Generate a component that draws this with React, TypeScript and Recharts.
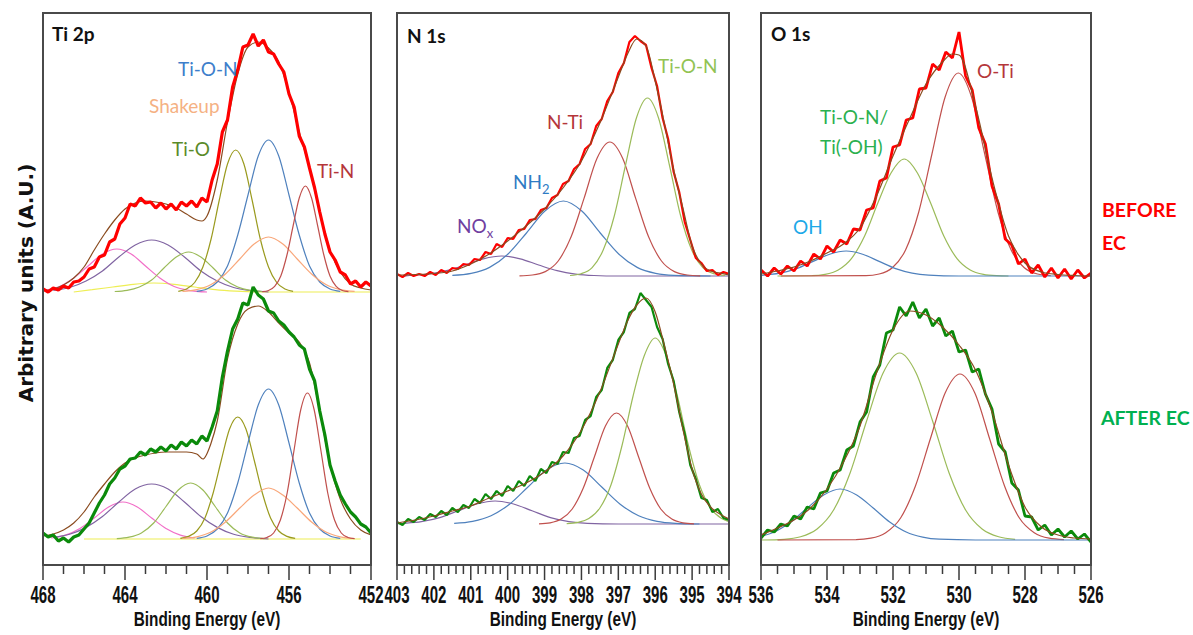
import React from 'react';
import { LineChart, Line, XAxis, YAxis } from 'recharts';

type Pt = [number, number];
type Row = { x: number; y: number };

// ---------- Ti 2p (eV, intensity a.u.) ----------
const TI_DATA_START = 468;
const TI_DATA_STEP = 0.25;
const TI_BEFORE_DATA = [3, 0, 4, 2, 6, 4, 10, 11, 15, 23, 25, 35, 37, 50, 53, 68, 74, 88, 86, 94, 89, 90, 84, 89, 83, 88, 82, 90, 86, 91, 85, 94, 90, 112, 128, 160, 172, 205, 222, 245, 247, 258, 246, 252, 240, 238, 228, 220, 198, 185, 156, 145, 124, 104, 80, 58, 40, 32, 20, 17, 8, 11, 5, 10, 6];
const TI_AFTER_DATA = [6, 2, 4, -2, 1, -3, 2, 4, 10, 16, 26, 36, 44, 55, 61, 70, 73, 80, 81, 87, 84, 90, 87, 92, 88, 94, 90, 97, 93, 99, 95, 103, 98, 112, 128, 162, 188, 210, 220, 236, 234, 252, 244, 240, 228, 226, 218, 214, 207, 202, 194, 190, 170, 158, 128, 104, 74, 58, 44, 35, 27, 22, 15, 12, 6];

const TI_B_ENV: Pt[] = [[468, 1], [467.5, 3], [467, 7], [466.5, 14], [466, 25], [465.5, 42], [465, 58], [464.5, 72], [464, 83], [463.5, 89], [463, 91], [462.5, 90], [462, 88], [461.5, 84], [461, 78], [460.5, 72], [460.25, 71], [460, 76], [459.5, 112], [459, 170], [458.5, 218], [458, 245], [457.5, 250], [457, 244], [456.5, 230], [456, 200], [455.5, 160], [455, 124], [454.5, 80], [454, 42], [453.5, 20], [453, 8], [452.5, 4], [452, 2]];
const TI_B_PINK: Pt[] = [[467.9, 1.7], [467.2, 5.5], [466.5, 14], [465.8, 26], [465.1, 38], [464.4, 43], [463.7, 38], [463.0, 26], [462.3, 14], [461.6, 5.5], [460.9, 1.7], [460.0, 0]];
const TI_B_PURPLE: Pt[] = [[467.5, 1.5], [466.7, 4.5], [465.9, 11], [465.1, 21], [464.3, 35], [463.5, 47], [462.7, 52], [461.9, 47], [461.1, 35], [460.3, 21], [459.5, 11], [458.7, 4.5], [457.9, 1.5], [457.0, 0]];
const TI_B_YELLOW: Pt[] = [[466.5, 0], [465.6, 2.3], [464.6, 5], [463.6, 7.7], [462.6, 9], [461.6, 7.7], [460.6, 5], [459.6, 2.3], [458.6, 0.8], [457.5, 0], [452, 0]];
const TI_B_LGREEN: Pt[] = [[464.5, 0.5], [463.9, 1.6], [463.3, 5], [462.7, 12], [462.1, 24], [461.5, 35], [460.9, 40], [460.3, 35], [459.7, 24], [459.1, 12], [458.5, 5], [457.9, 1.6], [457.3, 0.5]];
const TI_B_OLIVE: Pt[] = [[461.4, 0.7], [461.0, 3], [460.6, 9.5], [460.2, 25], [459.8, 53], [459.4, 92], [459.0, 128], [458.6, 142], [458.2, 128], [457.8, 92], [457.4, 53], [457.0, 25], [456.6, 9.5], [456.2, 3], [455.8, 0.7]];
const TI_B_BLUE: Pt[] = [[460.5, 0.7], [460.0, 3], [459.5, 10], [459.0, 26], [458.5, 57], [458.0, 97], [457.5, 136], [457.0, 152], [456.5, 136], [456.0, 97], [455.5, 57], [455.0, 26], [454.5, 10], [454.0, 3], [453.5, 0.7]];
const TI_B_ORANGE: Pt[] = [[461.2, 0.6], [460.5, 2.4], [459.8, 7.5], [459.1, 18], [458.4, 33], [457.7, 48], [457.0, 55], [456.3, 48], [455.6, 33], [454.9, 18], [454.2, 7.5], [453.5, 2.4], [452.8, 0.6]];
const TI_B_TIN: Pt[] = [[457.3, 0.3], [457.0, 1.5], [456.7, 5.6], [456.4, 16], [456.1, 37], [455.8, 66], [455.5, 94], [455.2, 106], [454.9, 94], [454.6, 66], [454.3, 37], [454.0, 16], [453.7, 5.6], [453.4, 1.5], [453.1, 0.3]];

const TI_A_ENV: Pt[] = [[468, 3], [467.5, 5], [467, 9], [466.5, 16], [466, 27], [465.5, 42], [465, 55], [464.5, 67], [464, 76], [463.5, 81], [463, 84], [462.5, 86], [462, 87], [461.5, 87], [461, 87], [460.5, 85], [460.2, 80], [459.8, 96], [459.5, 118], [459, 180], [458.5, 215], [458, 230], [457.5, 233], [457, 227], [456.5, 216], [456, 206], [455.5, 197], [455, 176], [454.5, 128], [454, 75], [453.5, 40], [453, 20], [452.5, 9], [452, 4]];
const TI_A_PINK: Pt[] = [[467.6, 1], [466.9, 3.9], [466.2, 10.5], [465.5, 21], [464.8, 32], [464.1, 37], [463.4, 32], [462.7, 21], [462.0, 10.5], [461.3, 3.9], [460.6, 1]];
const TI_A_PURPLE: Pt[] = [[467.5, 1.6], [466.7, 4.7], [465.9, 11.6], [465.1, 22.5], [464.3, 37], [463.5, 50], [462.7, 55], [461.9, 50], [461.1, 37], [460.3, 22.5], [459.5, 11.6], [458.7, 4.7], [457.9, 1.6], [457.0, 0]];
const TI_A_YELLOW: Pt[] = [[466.0, 0], [452.5, 0]];
const TI_A_LGREEN: Pt[] = [[464.4, 0.4], [463.8, 1.8], [463.2, 6.1], [462.6, 16], [462.0, 32.5], [461.4, 49], [460.8, 56], [460.2, 49], [459.6, 32.5], [459.0, 16], [458.4, 6.1], [457.8, 1.8], [457.2, 0.4]];
const TI_A_OLIVE: Pt[] = [[461.3, 0.6], [460.9, 2.6], [460.5, 8], [460.1, 21], [459.7, 46], [459.3, 79], [458.9, 110], [458.5, 122], [458.1, 110], [457.7, 79], [457.3, 46], [456.9, 21], [456.5, 8], [456.1, 2.6], [455.7, 0.6]];
const TI_A_BLUE: Pt[] = [[460.5, 0.7], [460.0, 3], [459.5, 10], [459.0, 26], [458.5, 56], [458.0, 96], [457.5, 134], [457.0, 150], [456.5, 134], [456.0, 96], [455.5, 56], [455.0, 26], [454.5, 10], [454.0, 3], [453.5, 0.7]];
const TI_A_ORANGE: Pt[] = [[461.2, 0.5], [460.5, 2.2], [459.8, 7], [459.1, 17], [458.4, 31], [457.7, 44], [457.0, 51], [456.3, 44], [455.6, 31], [454.9, 17], [454.2, 7], [453.5, 2.2], [452.8, 0.5]];
const TI_A_TIN: Pt[] = [[457.4, 0.3], [457.08, 1.5], [456.75, 6], [456.42, 19], [456.09, 46], [455.76, 88], [455.43, 129], [455.1, 146], [454.77, 129], [454.44, 88], [454.11, 46], [453.78, 19], [453.45, 6], [453.12, 1.5], [452.8, 0.3]];

// ---------- N 1s ----------
const N_DATA_START = 403;
const N_DATA_STEP = 0.15;
const N_BEFORE_DATA = [2, -1, 3, 0, 2, 0, 4, 1, 6, 3, 8, 7, 12, 11, 17, 16, 24, 22, 32, 29, 38, 37, 46, 47, 56, 57, 66, 68, 78, 81, 92, 95, 107, 112, 127, 132, 150, 157, 175, 184, 203, 213, 234, 240, 235, 231, 208, 190, 158, 137, 104, 84, 54, 36, 18, 13, 5, 6, 1, 4, 2];
const N_AFTER_DATA = [2, -1, 5, 2, 7, 4, 10, 7, 13, 9, 16, 12, 19, 16, 25, 21, 30, 25, 33, 28, 38, 33, 43, 38, 48, 43, 55, 51, 62, 60, 72, 71, 86, 88, 104, 108, 127, 134, 156, 164, 184, 192, 211, 215, 231, 224, 217, 197, 185, 160, 143, 112, 90, 59, 45, 26, 24, 12, 15, 6, 4];

const N_B_ENV: Pt[] = [[403, 1], [402.5, 1.5], [402, 2.5], [401.5, 5], [401, 12], [400.5, 22], [400, 35], [399.5, 50], [399, 67], [398.5, 88], [398, 115], [397.5, 153], [397, 199], [396.75, 222], [396.5, 237], [396.25, 230], [396, 195], [395.75, 152], [395.5, 106], [395.25, 68], [395, 30], [394.75, 12], [394.5, 5], [394.25, 3], [394, 1]];
const N_B_NOX: Pt[] = [[402.8, 0], [402.66, 0.5], [402.16, 1.9], [401.66, 5.3], [401.16, 11], [400.66, 17.2], [400.16, 20], [399.66, 17.2], [399.16, 11], [398.66, 5.3], [398.16, 1.9], [397.66, 0.5], [397, 0], [394, 0]];
const N_B_NH2: Pt[] = [[401.5, 0.6], [400.99, 2.6], [400.49, 8.6], [399.99, 22], [399.49, 43], [398.99, 65], [398.49, 75], [397.99, 65], [397.49, 43], [396.99, 22], [396.49, 8.6], [395.99, 2.6], [395.49, 0.6], [394.5, 0]];
const N_B_NTI: Pt[] = [[399.68, 0.2], [399.33, 1], [398.98, 4.4], [398.63, 15], [398.28, 39.2], [397.93, 77.6], [397.58, 117.5], [397.23, 134], [396.88, 117.5], [396.53, 77.6], [396.18, 39.2], [395.83, 15], [395.48, 4.4], [395.13, 1], [394.78, 0.2]];
const N_B_TION: Pt[] = [[398.31, 0.5], [398.01, 2.3], [397.71, 8.4], [397.41, 26], [397.11, 60], [396.81, 110], [396.51, 158], [396.21, 178], [395.91, 158], [395.61, 110], [395.31, 60], [395.01, 26], [394.71, 8.4], [394.41, 2.3], [394.11, 0.5]];

const N_A_ENV: Pt[] = [[403, 1], [402.5, 4], [402, 8], [401.5, 13], [401, 18], [400.5, 26], [400, 33], [399.5, 41], [399, 52], [398.5, 68], [398, 94], [397.5, 132], [397, 180], [396.75, 203], [396.5, 219], [396.25, 226], [396, 212], [395.75, 178], [395.5, 140], [395.25, 95], [395, 55], [394.75, 30], [394.5, 17], [394.25, 10], [394, 5]];
const N_A_NOX: Pt[] = [[403, 0.3], [402.84, 0.7], [402.34, 2.4], [401.84, 6.4], [401.34, 13.2], [400.84, 20], [400.34, 23], [399.84, 20], [399.34, 13.2], [398.84, 6.4], [398.34, 2.4], [397.84, 0.7], [397, 0], [394, 0]];
const N_A_NH2: Pt[] = [[401.45, 0.7], [400.95, 2.7], [400.45, 8.3], [399.95, 19.8], [399.45, 37], [398.95, 54], [398.45, 61], [397.95, 54], [397.45, 37], [396.95, 19.8], [396.45, 8.3], [395.95, 2.7], [395.45, 0.7], [394.8, 0]];
const N_A_NTI: Pt[] = [[399.15, 0.2], [398.85, 1.2], [398.55, 4.9], [398.25, 15], [397.95, 36], [397.65, 67], [397.35, 98], [397.05, 111], [396.75, 98], [396.45, 67], [396.15, 36], [395.85, 15], [395.55, 4.9], [395.25, 1.2], [394.95, 0.2]];
const N_A_TION: Pt[] = [[398.4, 0.4], [398.1, 1.6], [397.8, 5.4], [397.5, 16], [397.2, 39], [396.9, 78.5], [396.6, 128], [396.3, 168], [396.0, 186], [395.7, 168], [395.4, 128], [395.1, 78.5], [394.8, 39], [394.5, 16], [394.2, 5.4], [394.0, 2.3]];

// ---------- O 1s ----------
const O_DATA_START = 536;
const O_DATA_STEP = 0.2;
const O_BEFORE_DATA = [6, 0, 8, 2, 10, 5, 15, 10, 22, 17, 30, 24, 36, 32, 47, 46, 66, 68, 95, 98, 129, 131, 156, 158, 187, 188, 212, 206, 224, 218, 244, 200, 186, 148, 132, 90, 72, 37, 31, 12, 17, 3, 11, -1, 8, -2, 7, -3, 6, -2, 3];
const O_AFTER_DATA = [2, 10, 8, 16, 14, 24, 21, 33, 31, 47, 49, 67, 70, 90, 94, 118, 128, 163, 175, 207, 210, 233, 224, 238, 222, 231, 214, 222, 204, 209, 188, 190, 168, 171, 146, 131, 96, 88, 57, 50, 24, 23, 10, 15, 5, 11, 3, 9, 1, 6, -2];

const O_B_ENV: Pt[] = [[536, 2], [535.5, 5], [535, 9], [534.5, 15], [534, 23], [533.5, 32], [533, 48], [532.5, 80], [532, 120], [531.5, 157], [531, 192], [530.5, 214], [530.2, 222], [530, 221], [529.5, 170], [529, 98], [528.5, 40], [528, 13], [527.5, 4], [527, 1.5], [526.5, 0.5], [526, 0]];
const O_B_OH: Pt[] = [[536, 0.5], [535.92, 0.9], [535.42, 2.9], [534.92, 7.4], [534.42, 14.6], [533.92, 21.8], [533.42, 25], [532.92, 21.8], [532.42, 14.6], [531.92, 7.4], [531.42, 2.9], [530.92, 0.9], [530, 0], [526, 0]];
const O_B_TION: Pt[] = [[535.5, 0], [534.46, 0.3], [534.06, 1.6], [533.66, 6], [533.26, 17.4], [532.86, 40], [532.46, 73], [532.06, 103], [531.66, 117], [531.26, 103], [530.86, 73], [530.46, 40], [530.06, 17.4], [529.66, 6], [529.26, 1.6], [528.86, 0.3], [528.5, 0]];
const O_B_OTI: Pt[] = [[535.4, 0], [532.82, 0.4], [532.42, 2], [532.02, 8.2], [531.62, 26], [531.22, 64], [530.82, 122], [530.42, 179], [530.02, 203], [529.62, 179], [529.22, 122], [528.82, 64], [528.42, 26], [528.02, 8.2], [527.62, 2], [527.22, 0.4]];

const O_A_ENV: Pt[] = [[536, 5], [535.5, 12], [535, 20], [534.5, 32], [534, 51], [533.5, 78], [533, 114], [532.5, 167], [532, 210], [531.5, 229], [531, 225], [530.5, 213], [530, 195], [529.5, 170], [529, 128], [528.5, 75], [528, 33], [527.5, 13], [527, 5], [526.5, 2], [526, 1]];
const O_A_OH: Pt[] = [[536, 3.7], [535.6, 8], [535.1, 18], [534.6, 32], [534.1, 45], [533.6, 51], [533.1, 45], [532.6, 32], [532.1, 18], [531.6, 8], [531.1, 2.9], [530.6, 0.8], [529.5, 0], [526, 0]];
const O_A_TION: Pt[] = [[536, 0], [535.3, 0.7], [534.8, 3.2], [534.3, 11], [533.8, 30], [533.3, 67], [532.8, 119], [532.3, 167], [531.8, 187], [531.3, 167], [530.8, 119], [530.3, 67], [529.8, 30], [529.3, 11], [528.8, 3.2], [528.3, 0.7]];
const O_A_OTI: Pt[] = [[535.5, 0], [533.12, 0.4], [532.67, 1.8], [532.22, 7.3], [531.77, 22], [531.32, 54], [530.87, 101], [530.42, 147], [529.97, 166], [529.52, 147], [529.07, 101], [528.62, 54], [528.17, 22], [527.72, 7.3], [527.27, 1.8], [526.82, 0.4]];

// colours
const RED = '#ff0000';
const GREEN = '#0b8a0b';
const ENV = '#8a4b1f';
const PINK = '#f26fc8';
const PURPLE = '#8064a2';
const YELLOW = '#eeee55';
const LGREEN = '#9bbb59';
const OLIVE = '#9a9a1e';
const BLUE = '#4f81bd';
const ORANGE = '#f9a77a';
const DKRED = '#c0504d';

const rows = (pts: Pt[]): Row[] => pts.map(([x, y]) => ({ x, y }));
const sampled = (start: number, step: number, vals: number[]): Row[] =>
  vals.map((y, i) => ({ x: +(start - i * step).toFixed(2), y }));
const tickList = (lo: number, hi: number, step: number) => {
  const out: number[] = [];
  for (let v = lo; v <= hi + 1e-9; v += step) out.push(+v.toFixed(2));
  return out;
};

type Series = { data: Row[]; color: string; w: number; axis: 'b' | 'a'; smooth?: boolean };

const comp = (pts: Pt[], color: string, axis: 'b' | 'a'): Series => ({ data: rows(pts), color, w: 1.2, axis, smooth: true });
const env = (pts: Pt[], axis: 'b' | 'a'): Series => ({ data: rows(pts), color: ENV, w: 1.2, axis, smooth: true });
const meas = (data: Row[], color: string, axis: 'b' | 'a', w = 2.8): Series => ({ data, color, w, axis });

const H = 635;
const PAD = 30;
const TICK_FONT = "'Liberation Sans', Arial, sans-serif";
const LABEL_FONT = "Lato, 'Noto Sans', sans-serif";

const Tick = (props: any) => {
  const { x, y, payload, majorStep } = props;
  const v = payload.value;
  const major = Math.abs(v / majorStep - Math.round(v / majorStep)) < 1e-6;
  return (
    <g>
      <line x1={x} x2={x} y1={y} y2={y + (major ? 15 : 9)} stroke="#3a3a3a" strokeWidth={1.5} />
      {major && (
        <g transform={`translate(${x},${y + 38}) scale(0.64,1)`}>
          <text x={0} y={0} textAnchor="middle" fontFamily={TICK_FONT} fontWeight="bold" fontSize={23.5} fill="#111">
            {Math.round(v)}
          </text>
        </g>
      )}
    </g>
  );
};

type PanelProps = {
  left: number;
  width: number;
  domain: [number, number];
  step: number;
  majorStep: number;
  before: [number, number];
  after: [number, number];
  series: Series[];
};

function Panel({ left, width, domain, step, majorStep, before, after, series }: PanelProps) {
  const ticks = tickList(domain[0], domain[1], step);
  return (
    <div style={{ position: 'absolute', left: left - PAD, top: 0, width: width + 2 * PAD, height: H }}>
      <LineChart width={width + 2 * PAD} height={H} margin={{ top: 13, right: PAD, left: PAD, bottom: 20 }}>
        <XAxis
          type="number"
          dataKey="x"
          domain={domain}
          reversed
          allowDataOverflow
          ticks={ticks}
          interval={0}
          tickSize={0}
          tickMargin={0}
          axisLine={false}
          tickLine={false}
          height={50}
          tick={(p: any) => <Tick {...p} majorStep={majorStep} />}
        />
        <YAxis yAxisId="b" hide domain={before} allowDataOverflow />
        <YAxis yAxisId="a" hide domain={after} allowDataOverflow />
        {series.map((s, i) => (
          <Line
            key={i}
            yAxisId={s.axis}
            data={s.data}
            dataKey="y"
            type={s.smooth ? 'monotone' : 'linear'}
            stroke={s.color}
            strokeWidth={s.w}
            strokeLinejoin="bevel"
            dot={false}
            activeDot={false}
            isAnimationActive={false}
          />
        ))}
      </LineChart>
      <div
        style={{
          position: 'absolute',
          left: PAD - 1,
          top: 12,
          width: width + 2,
          height: 554,
          border: '2px solid #4a4a4a',
          boxSizing: 'border-box',
          pointerEvents: 'none',
        }}
      />
      <div
        style={{
          position: 'absolute',
          left: 0,
          width: width + 2 * PAD,
          top: 607,
          textAlign: 'center',
          fontFamily: TICK_FONT,
          fontWeight: 'bold',
          fontSize: 21,
          lineHeight: '24px',
          color: '#111',
          transform: 'scaleX(0.73)',
        }}
      >
        Binding Energy (eV)
      </div>
    </div>
  );
}

const Label = ({ x, y, color, size = 19, bold = false, children }: any) => (
  <div
    style={{
      position: 'absolute',
      left: x,
      top: y - size * 0.62,
      color,
      fontFamily: LABEL_FONT,
      fontSize: size,
      fontWeight: bold ? 'bold' : 'normal',
      lineHeight: 1.2,
      whiteSpace: 'nowrap',
    }}
  >
    {children}
  </div>
);

export default function App() {
  const tiSeries: Series[] = [
    comp(TI_B_YELLOW, YELLOW, 'b'), comp(TI_B_PINK, PINK, 'b'), comp(TI_B_PURPLE, PURPLE, 'b'),
    comp(TI_B_LGREEN, LGREEN, 'b'), comp(TI_B_OLIVE, OLIVE, 'b'), comp(TI_B_BLUE, BLUE, 'b'),
    comp(TI_B_ORANGE, ORANGE, 'b'), comp(TI_B_TIN, DKRED, 'b'), env(TI_B_ENV, 'b'),
    meas(sampled(TI_DATA_START, TI_DATA_STEP, TI_BEFORE_DATA), RED, 'b', 3.2),
    comp(TI_A_YELLOW, YELLOW, 'a'), comp(TI_A_PINK, PINK, 'a'), comp(TI_A_PURPLE, PURPLE, 'a'),
    comp(TI_A_LGREEN, LGREEN, 'a'), comp(TI_A_OLIVE, OLIVE, 'a'), comp(TI_A_BLUE, BLUE, 'a'),
    comp(TI_A_ORANGE, ORANGE, 'a'), comp(TI_A_TIN, DKRED, 'a'), env(TI_A_ENV, 'a'),
    meas(sampled(TI_DATA_START, TI_DATA_STEP, TI_AFTER_DATA), GREEN, 'a', 3.2),
  ];
  const nSeries: Series[] = [
    comp(N_B_NOX, PURPLE, 'b'), comp(N_B_NH2, BLUE, 'b'), comp(N_B_NTI, DKRED, 'b'), comp(N_B_TION, LGREEN, 'b'),
    meas(sampled(N_DATA_START, N_DATA_STEP, N_BEFORE_DATA), RED, 'b', 2.2), env(N_B_ENV, 'b'),
    comp(N_A_NOX, PURPLE, 'a'), comp(N_A_NH2, BLUE, 'a'), comp(N_A_NTI, DKRED, 'a'), comp(N_A_TION, LGREEN, 'a'),
    meas(sampled(N_DATA_START, N_DATA_STEP, N_AFTER_DATA), GREEN, 'a', 2.2), env(N_A_ENV, 'a'),
  ];
  const oSeries: Series[] = [
    comp(O_B_TION, LGREEN, 'b'), comp(O_B_OTI, DKRED, 'b'), comp(O_B_OH, BLUE, 'b'),
    meas(sampled(O_DATA_START, O_DATA_STEP, O_BEFORE_DATA), RED, 'b'), env(O_B_ENV, 'b'),
    comp(O_A_TION, LGREEN, 'a'), comp(O_A_OTI, DKRED, 'a'), comp(O_A_OH, BLUE, 'a'),
    meas(sampled(O_DATA_START, O_DATA_STEP, O_AFTER_DATA), GREEN, 'a'), env(O_A_ENV, 'a'),
  ];

  return (
    <div style={{ position: 'relative', width: 1193, height: H, background: '#fff', overflow: 'hidden' }}>
      <style>{'body{margin:0}'}</style>
      <Panel left={43} width={328} domain={[452, 468]} step={1} majorStep={4} before={[-273, 279]} after={[-26, 526]} series={tiSeries} />
      <Panel left={397} width={332} domain={[394, 403]} step={0.2} majorStep={1} before={[-289, 263]} after={[-41, 511]} series={nSeries} />
      <Panel left={761} width={330} domain={[526, 536]} step={0.5} majorStep={2} before={[-289, 263]} after={[-25, 527]} series={oSeries} />

      <div
        style={{
          position: 'absolute',
          left: 26 - 150,
          top: 283 - 13,
          width: 300,
          height: 26,
          lineHeight: '26px',
          textAlign: 'center',
          transform: 'rotate(-90deg)',
          fontFamily: "'DejaVu Sans', sans-serif",
          fontWeight: 'bold',
          fontSize: 20,
          color: '#111',
        }}
      >
        Arbitrary units (A.U.)
      </div>

      <Label x={52} y={35} color="#111" bold>Ti 2p</Label>
      <Label x={178} y={70} color="#3d7ecb">Ti-O-N</Label>
      <Label x={149} y={107} color="#f5b183">Shakeup</Label>
      <Label x={172} y={150} color="#5a8a2a">Ti-O</Label>
      <Label x={317} y={172} color="#b5363a">Ti-N</Label>

      <Label x={407} y={37} color="#111" bold>N 1s</Label>
      <Label x={658} y={67} color="#92c353">Ti-O-N</Label>
      <Label x={547} y={123} color="#b5363a">N-Ti</Label>
      <Label x={513} y={183} color="#2e7bc4">NH<sub style={{ fontSize: 13 }}>2</sub></Label>
      <Label x={457} y={227} color="#7040a0">NO<sub style={{ fontSize: 13 }}>x</sub></Label>

      <Label x={771} y={35} color="#111" bold>O 1s</Label>
      <Label x={977} y={72} color="#b5363a">O-Ti</Label>
      <Label x={820} y={118} color="#2bb04f">Ti-O-N/</Label>
      <Label x={820} y={148} color="#2bb04f">Ti(-OH)</Label>
      <Label x={793} y={228} color="#1ea8e8">OH</Label>

      <Label x={1102} y={210} color="#ff0000" size={19.5} bold>BEFORE</Label>
      <Label x={1102} y={243} color="#ff0000" size={19.5} bold>EC</Label>
      <Label x={1101} y={418} color="#00b050" size={19.5} bold>AFTER EC</Label>
    </div>
  );
}
